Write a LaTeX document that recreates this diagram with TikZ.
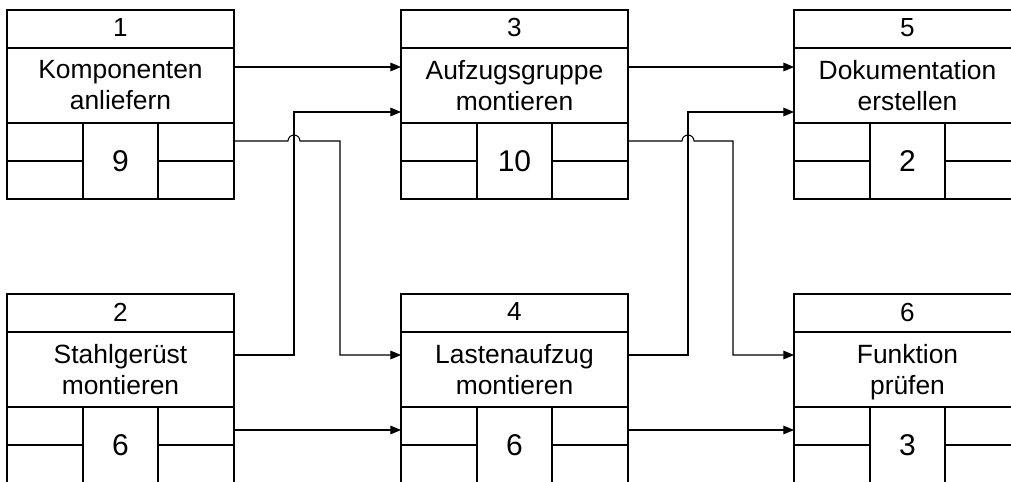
\documentclass[tikz,border=0pt]{standalone}
\usepackage{fontspec}
\setmainfont{Liberation Sans}
\usetikzlibrary{arrows.meta}
\tikzset{
  taskframe/.style={draw=black, line width=1.5pt, rectangle, inner sep=0pt, outer sep=0pt,
    minimum width=170.25pt, minimum height=141.75pt},
  divider/.style={draw=black, line width=1.4pt},
  numtxt/.style={inner sep=0pt, font=\fontsize{19.6}{23}\selectfont},
  midtxt/.style={inner sep=0pt, align=center, font=\fontsize{19.8}{23.3}\selectfont},
  durtxt/.style={inner sep=0pt, font=\fontsize{22.5}{26}\selectfont},
  conn/.style={draw=black, line width=0.8pt, -{Triangle[length=8pt,width=6.5pt]}},
}
\newcommand\taskbox[6]{%
  \node[taskframe] (#1) at (#2+113.5,#3+94.5) {};
  \draw[divider] (#2,#3+38) -- (#2+227,#3+38);
  \draw[divider] (#2,#3+113) -- (#2+227,#3+113);
  \draw[divider] (#2+76,#3+113) -- (#2+76,#3+189);
  \draw[divider] (#2+151,#3+113) -- (#2+151,#3+189);
  \draw[divider] (#2,#3+151) -- (#2+76,#3+151);
  \draw[divider] (#2+151,#3+151) -- (#2+227,#3+151);
  \node[numtxt] (#1-n) at (#2+113.5,#3+18) {#4};
  \node[midtxt] (#1-t) at (#2+113.5,#3+78) {#5\vphantom{p}};
  \node[durtxt] (#1-d) at (#2+113.5,#3+151) {#6};
}
\begin{document}
\begin{tikzpicture}[x=0.75pt,y=-0.75pt]
\useasboundingbox (0,0) rectangle (1011,482);
\clip (0,0) rectangle (1011,482);
\taskbox{b1}{7}{10}{1}{Komponenten\\anliefern}{9}
\taskbox{b3}{401}{10}{3}{Aufzugsgruppe\\montieren}{10}
\taskbox{b5}{794}{10}{5}{Dokumentation\\erstellen}{2}
\taskbox{b2}{7}{294}{2}{Stahlgerüst\\montieren}{6}
\taskbox{b4}{401}{294}{4}{Lastenaufzug\\montieren}{6}
\taskbox{b6}{794}{294}{6}{Funktion\\prüfen}{3}
% connectors
\draw[conn] (b1.east |- 0,67) -- (b3.west |- 0,67);
\draw[conn] (b3.east |- 0,67) -- (b5.west |- 0,67);
\draw[conn] (b2.east |- 0,430) -- (b4.west |- 0,430);
\draw[conn] (b4.east |- 0,430) -- (b6.west |- 0,430);
\draw[conn] (b2.east |- 0,355) -| (294,112) -- (b3.west |- 0,112);
\draw[conn] (b4.east |- 0,355) -| (688,112) -- (b5.west |- 0,112);
\draw[conn] (b1.east |- 0,141) -- (288,141) arc[start angle=180, end angle=360, radius=6] -- (340,141) |- (b4.west |- 0,355);
\draw[conn] (b3.east |- 0,141) -- (682,141) arc[start angle=180, end angle=360, radius=6] -- (733,141) |- (b6.west |- 0,355);
\end{tikzpicture}
\end{document}
